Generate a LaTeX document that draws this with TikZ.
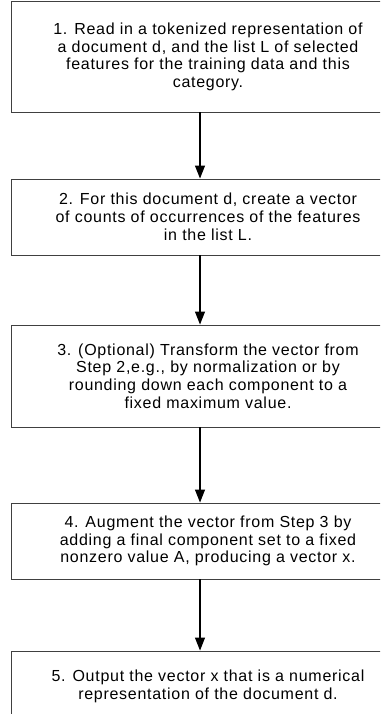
\documentclass[tikz,border=0pt]{standalone}
\usepackage{fontspec}
\setmainfont[LetterSpace=4.5]{Liberation Sans}
\usetikzlibrary{arrows.meta}

\begin{document}
\begin{tikzpicture}[x=1pt, y=-1pt,
          stepbox/.style={draw=black!75, line width=0.9pt, minimum width=394pt, align=center,
                          inner sep=0pt, font=\fontsize{16}{17.8}\selectfont},
          arrow/.style={-{Triangle[width=10pt,length=13pt]}, line width=1.2pt, black}
        ]
          \useasboundingbox (0,0) rectangle (380,714);
          \clip (0,0) rectangle (380,714);

          % Steps (boxes run past the right edge)
          \node[stepbox, minimum height=110.3pt] (read) at (208,56.9)
            {1. Read in a tokenized representation of\\ a document d, and the list L of selected\\ features for the training data and this\\ category.};
          \node[stepbox, minimum height=76pt] (count) at (208,217)
            {2. For this document d, create a vector\\ of counts of occurrences of the features\\ in the list L.};
          \node[stepbox, minimum height=102pt] (transform) at (208,376)
            {3. (Optional) Transform the vector from\\ Step 2,e.g., by normalization or by\\ rounding down each component to a\\ fixed maximum value.};
          \node[stepbox, minimum height=76pt] (augment) at (208,541)
            {4. Augment the vector from Step 3 by\\ adding a final component set to a fixed\\ nonzero value A, producing a vector x.};
          \node[stepbox, minimum height=70pt] (output) at (208,686)
            {5. Output the vector x that is a numerical\\ representation of the document d.};

          % Arrows sit a little left of the box centres
          \coordinate (ax) at (200,0);
          \draw[arrow] (read.south -| ax) -- (count.north -| ax);
          \draw[arrow] (count.south -| ax) -- (transform.north -| ax);
          \draw[arrow] (transform.south -| ax) -- (augment.north -| ax);
          \draw[arrow] (augment.south -| ax) -- (output.north -| ax);

        \end{tikzpicture}
\end{document}
